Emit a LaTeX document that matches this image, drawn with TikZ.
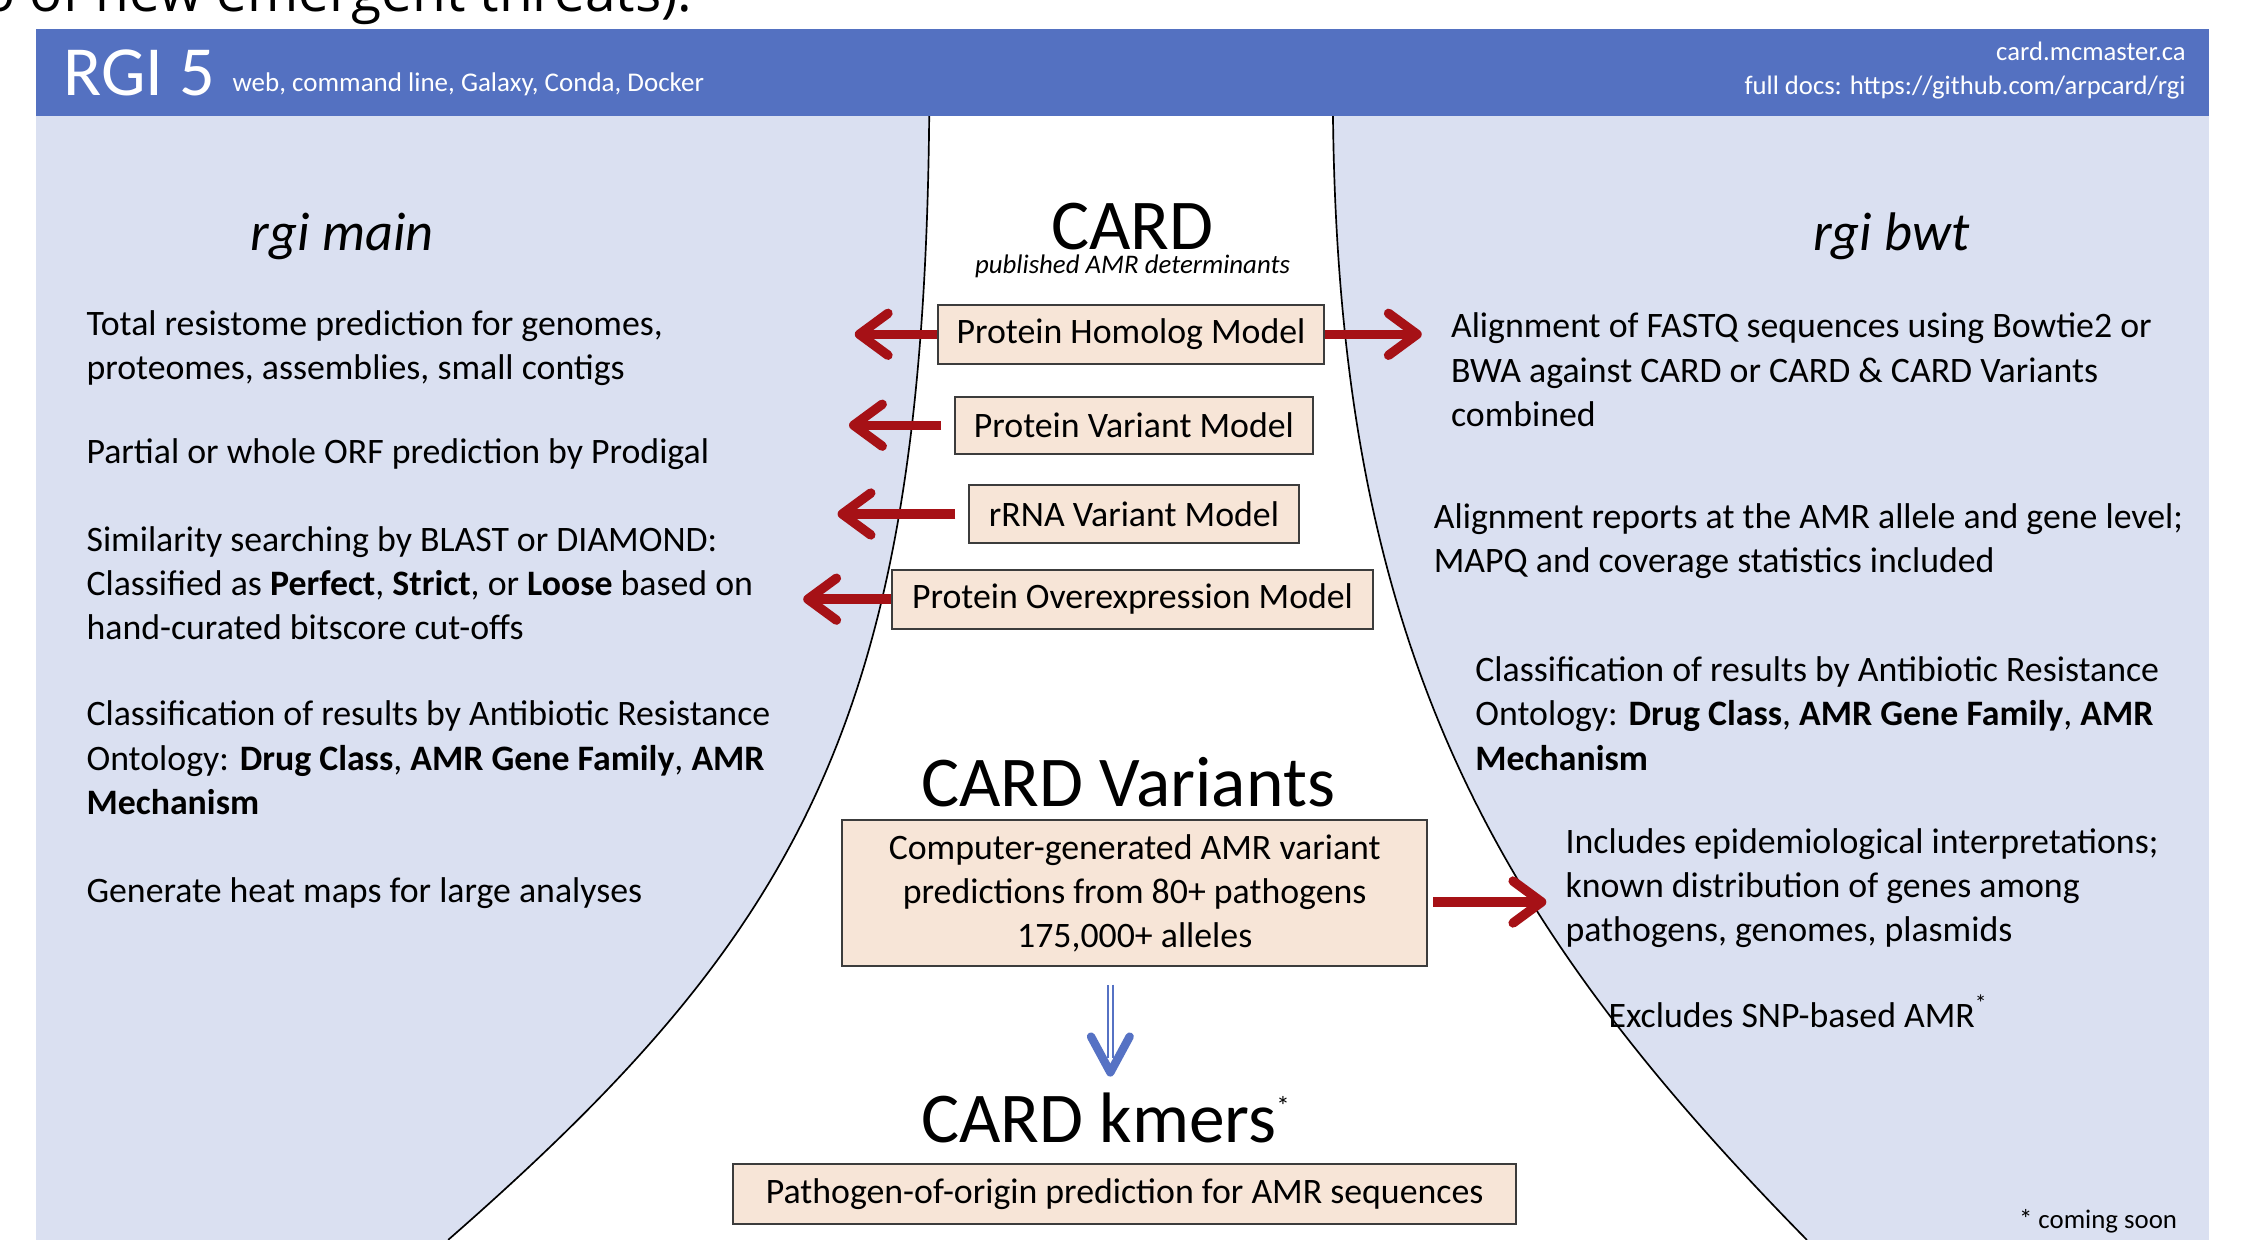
\documentclass[tikz,border=0pt]{standalone}
\usepackage{fontspec}
\setmainfont{Carlito}
\newfontfamily\opensansfam{Open Sans}
\usetikzlibrary{arrows.meta,calc}

\definecolor{hdrblue}{RGB}{84,113,193}
\definecolor{panelblue}{RGB}{218,224,241}
\definecolor{boxfill}{RGB}{247,229,215}
\definecolor{boxline}{RGB}{60,60,60}
\definecolor{arrred}{RGB}{166,17,22}
\definecolor{arrblue}{RGB}{86,114,196}

\newcommand\fBody{\fontsize{10.67}{13.2}\selectfont}
\newcommand\fTitle{\fontsize{21.3}{25}\selectfont}
\newcommand\fCol{\fontsize{16.2}{19}\selectfont\itshape}
\newcommand\fSub{\fontsize{8}{10}\selectfont\itshape}
\newcommand\fSmallNote{\fontsize{8}{10}\selectfont}
\newcommand\fHdr{\fontsize{7.95}{10.2}\selectfont}
\newcommand\fRGI{\fontsize{21}{24}\selectfont}
\newcommand\fPlat{\fontsize{8.05}{10}\selectfont}
\newcommand\mypara[1]{\begin{tabular}[t]{@{}l@{}}#1\end{tabular}}

\begin{document}
\begin{tikzpicture}[x=0.015cm,y=-0.015cm,
  txt/.style={anchor=base west, inner sep=0pt, font=\fBody},
  model/.style={draw=boxline, fill=boxfill, line width=0.6pt, inner sep=0pt, font=\fBody},
  redarr/.style={draw=arrred, line width=2.8pt, -{Straight Barb[length=8.5pt,width=12.5pt,round]}},
  hdrtxt/.style={inner sep=0pt, text=white},
  curve/.style={draw=black, line width=0.5pt}
]
\useasboundingbox (0,0) rectangle (1568,866);
\clip (0,0) rectangle (1568,866);

% cut-off text at the very top
\node[anchor=base west, inner sep=0pt, font=\opensansfam\fontsize{16.4}{16}\selectfont] (toptxt) at (-13,8) {o of new emergent threats).};

% panels
\fill[panelblue] (25,81) rectangle (1543,866);
\fill[white] (649,81) .. controls (645,500) and (560,650) .. (313,866)
  -- (1262,866) .. controls (1040,640) and (935,450) .. (931,81) -- cycle;
\draw[curve] (649,81) .. controls (645,500) and (560,650) .. (313,866);
\draw[curve] (931,81) .. controls (935,450) and (1040,640) .. (1262,866);
\fill[hdrblue] (25,20) rectangle (1543,81);

% header
\node[hdrtxt, anchor=base west, font=\fRGI] (rgi) at (44,67) {RGI 5};
\node[hdrtxt, anchor=base west, font=\fPlat] (plat) at (162,64) {web, command line, Galaxy, Conda, Docker};
\node[hdrtxt, anchor=base east, font=\fHdr] (site) at (1527,42) {card.mcmaster.ca};
\node[hdrtxt, anchor=base east, font=\fHdr] (docs) at (1527,66) {full docs: https://github.com/arpcard/rgi};

% column titles
\node[anchor=base, inner sep=0pt, font=\fCol] (rmain) at (239,175) {rgi main};
\node[anchor=base, inner sep=0pt, font=\fCol] (rbwt) at (1321,175) {rgi bwt};

% left column
\node[txt] (l1) at (60,234) {\mypara{Total resistome prediction for genomes,\\proteomes, assemblies, small contigs}};
\node[txt] (l2) at (60,324) {Partial or whole ORF prediction by Prodigal};
\node[txt] (l3) at (60,385) {\mypara{Similarity searching by BLAST or DIAMOND:\\Classified as \textbf{Perfect}, \textbf{Strict}, or \textbf{Loose} based on\\hand-curated bitscore cut-offs}};
\node[txt] (l4) at (60,507) {\mypara{Classification of results by Antibiotic Resistance\\Ontology: \textbf{Drug Class}, \textbf{AMR Gene Family}, \textbf{AMR}\\\textbf{Mechanism}}};
\node[txt] (l5) at (60,630) {Generate heat maps for large analyses};

% right column
\node[txt] (r1) at (1013,236) {\mypara{Alignment of FASTQ sequences using Bowtie2 or\\BWA against CARD or CARD \& CARD Variants\\combined}};
\node[txt] (r2) at (1001,369) {\mypara{Alignment reports at the AMR allele and gene level;\\MAPQ and coverage statistics included}};
\node[txt] (r3) at (1030,476) {\mypara{Classification of results by Antibiotic Resistance\\Ontology: \textbf{Drug Class}, \textbf{AMR Gene Family}, \textbf{AMR}\\\textbf{Mechanism}}};
\node[txt] (r4) at (1093,596) {\mypara{Includes epidemiological interpretations;\\known distribution of genes among\\pathogens, genomes, plasmids}};
\node[txt] (r5) at (1123,718) {Excludes SNP-based AMR\raisebox{5pt}{\fontsize{7}{7}\selectfont *}};
\node[anchor=base east, inner sep=0pt, font=\fSmallNote] (soon) at (1521,858) {* coming soon};

% centre
\node[anchor=base, inner sep=0pt, font=\fTitle] (card) at (791,174) {CARD};
\node[anchor=base, inner sep=0pt, font=\fSub] (pub) at (791,191) {published AMR determinants};
\node[model, minimum width=270*0.015cm, minimum height=41*0.015cm] (phm) at (790,233.5) {Protein Homolog Model};
\node[model, minimum width=250*0.015cm, minimum height=40*0.015cm] (pvm) at (792,297) {Protein Variant Model};
\node[model, minimum width=230*0.015cm, minimum height=40*0.015cm] (rrna) at (792,359) {rRNA Variant Model};
\node[model, minimum width=336*0.015cm, minimum height=41*0.015cm] (pom) at (791,418.5) {Protein Overexpression Model};

\node[anchor=base, inner sep=0pt, font=\fTitle] (cv) at (788,563) {CARD Variants};
\node[model, minimum width=409*0.015cm, minimum height=102*0.015cm, align=center] (cvbox) at (792.5,624) {Computer-generated AMR variant\\predictions from 80+ pathogens\\175,000+ alleles};

\node[anchor=base west, inner sep=0pt, font=\fTitle] (kmers) at (643,798) {CARD kmers\raisebox{8pt}{\fontsize{8}{8}\selectfont *}};
\node[model, minimum width=547*0.015cm, minimum height=42*0.015cm] (kbox) at (785.5,834) {Pathogen-of-origin prediction for AMR sequences};

% red arrows
\coordinate (t1) at (597,233.5);
\coordinate (t2) at (993,233.5);
\coordinate (t3) at (593,297);
\coordinate (t4) at (585,359);
\coordinate (t5) at (561,418.5);
\coordinate (t6) at (1080,630);
\draw[redarr] (phm.west) -- (t1);
\draw[redarr] (phm.east) -- (t2);
\draw[redarr, shorten <=0.135cm] (pvm.west) -- (t3);
\draw[redarr, shorten <=0.135cm] (rrna.west) -- (t4);
\draw[redarr] (pom.west) -- (t5);
\draw[redarr, shorten <=0.05cm] (cvbox.east |- t6) -- (t6);

% blue double arrow
\coordinate (bs) at ($(cvbox.south)+(-17,12)$);
\coordinate (bt) at (775.5,749);
\draw[arrblue, line width=0.6pt, double=white, double distance=0.9pt] (bs) -- ($(bt)+(0,-10)$);
\draw[arrblue, line width=2.5pt, line cap=round, line join=round] ($(bt)+(-13.5,-25)$) -- (bt) -- ($(bt)+(13.5,-25)$);
\end{tikzpicture}
\end{document}
